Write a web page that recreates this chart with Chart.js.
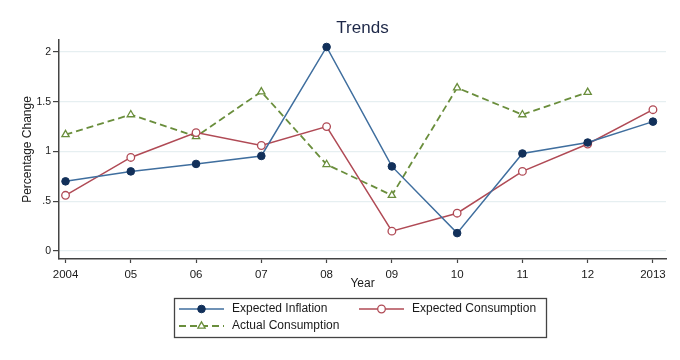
<!DOCTYPE html>
<html>
<head>
<meta charset="utf-8">
<script src="https://cdn.jsdelivr.net/npm/chart.js@4"></script>
<style>
html,body{margin:0;padding:0;background:#fff;}
#wrap{width:680px;height:360px;position:relative;}
</style>
</head>
<body>
<div id="wrap"><canvas id="c" width="680" height="360"></canvas></div>
<script>
const years = [2004, 2005, 2006, 2007, 2008, 2009, 2010, 2011, 2012, 2013];
const xTickLabels = ['2004', '05', '06', '07', '08', '09', '10', '11', '12', '2013'];
const yTickValues = [0, 0.5, 1, 1.5, 2];
const yTickLabels = ['0', '.5', '1', '1.5', '2'];
const expectedInflation = [0.70, 0.80, 0.875, 0.955, 2.05, 0.85, 0.18, 0.98, 1.09, 1.30];
const expectedConsumption = [0.56, 0.94, 1.19, 1.06, 1.25, 0.20, 0.38, 0.80, 1.075, 1.42];
const actualConsumption = [1.17, 1.37, 1.15, 1.60, 0.87, 0.56, 1.64, 1.37, 1.595, null];
const seriesNames = ['Expected Inflation', 'Expected Consumption', 'Actual Consumption'];

const toPts = arr => years.map((y, i) => ({x: y, y: arr[i]}));

Chart.defaults.font.family = "'Liberation Sans', Arial, sans-serif";
Chart.defaults.color = '#1a1a1a';

const boxLegend = {
  id: 'boxLegend',
  afterDraw(chart) {
    const ctx = chart.ctx;
    ctx.save();
    ctx.strokeStyle = '#444';
    ctx.lineWidth = 1.3;
    ctx.strokeRect(174.5, 298.5, 372, 39);
    const items = [
      {ds: 0, x: 179, y: 309},
      {ds: 1, x: 359, y: 309},
      {ds: 2, x: 179, y: 326}
    ];
    items.forEach(it => {
      const ds = chart.data.datasets[it.ds];
      ctx.save();
      ctx.strokeStyle = ds.borderColor;
      ctx.lineWidth = ds.borderWidth;
      ctx.setLineDash(ds.borderDash || []);
      ctx.beginPath();
      ctx.moveTo(it.x, it.y);
      ctx.lineTo(it.x + 45, it.y);
      ctx.stroke();
      ctx.restore();
      ctx.save();
      ctx.fillStyle = ds.pointBackgroundColor;
      ctx.strokeStyle = ds.pointBorderColor;
      ctx.lineWidth = ds.pointBorderWidth;
      ctx.setLineDash([]);
      Chart.helpers.drawPoint(ctx, {
        pointStyle: ds.pointStyle,
        radius: ds.pointRadius,
        borderWidth: ds.pointBorderWidth,
        rotation: 0
      }, it.x + 22.5, it.y);
      ctx.restore();
      ctx.fillStyle = '#1a1a1a';
      ctx.font = "12px 'Liberation Sans', Arial, sans-serif";
      ctx.textBaseline = 'middle';
      ctx.textAlign = 'left';
      ctx.fillText(seriesNames[it.ds], it.x + 53, it.y);
    });
    ctx.restore();
  }
};

new Chart(document.getElementById('c'), {
  type: 'line',
  data: {
    datasets: [
      {
        label: seriesNames[0],
        data: toPts(expectedInflation),
        borderColor: '#3f6e9e',
        borderWidth: 1.5,
        pointStyle: 'circle',
        pointRadius: 3.8,
        pointBorderWidth: 1,
        pointBackgroundColor: '#12305a',
        pointBorderColor: '#12305a',
        tension: 0
      },
      {
        label: seriesNames[1],
        data: toPts(expectedConsumption),
        borderColor: '#b04a55',
        borderWidth: 1.5,
        pointStyle: 'circle',
        pointRadius: 3.8,
        pointBorderWidth: 1.3,
        pointBackgroundColor: '#ffffff',
        pointBorderColor: '#b04a55',
        tension: 0
      },
      {
        label: seriesNames[2],
        data: toPts(actualConsumption),
        borderColor: '#6a8e3c',
        borderWidth: 1.8,
        borderDash: [7, 4],
        pointStyle: 'triangle',
        pointRadius: 4.2,
        pointBorderWidth: 1.3,
        pointBackgroundColor: '#ffffff',
        pointBorderColor: '#6a8e3c',
        spanGaps: false,
        tension: 0
      }
    ]
  },
  options: {
    responsive: false,
    animation: false,
    layout: {padding: {top: 0, left: 0, right: 14, bottom: 60}},
    plugins: {
      legend: {display: false},
      tooltip: {enabled: false},
      title: {
        display: true,
        text: 'Trends',
        fullSize: false,
        color: '#1e2848',
        font: {size: 17, weight: 'normal'},
        padding: {top: 18, bottom: 1.6}
      }
    },
    scales: {
      x: {
        type: 'linear',
        min: 2003.9,
        max: 2013.2,
        afterBuildTicks: s => { s.ticks = years.map(v => ({value: v})); },
        afterFit: s => { s.height = 41; },
        ticks: {
          callback: (v) => xTickLabels[years.indexOf(v)],
          font: {size: 11.5},
          color: '#1a1a1a',
          padding: 5,
          maxRotation: 0,
          autoSkip: false
        },
        grid: {drawOnChartArea: false, drawTicks: true, tickLength: 4, tickColor: '#444', tickWidth: 1.2},
        border: {display: true, color: '#444', width: 1.5},
        title: {display: true, text: 'Year', font: {size: 12}, color: '#1a1a1a', padding: {top: 0, bottom: 9}}
      },
      y: {
        min: -0.08,
        max: 2.12,
        afterBuildTicks: s => { s.ticks = yTickValues.map(v => ({value: v})); },
        afterFit: s => { s.width = 59; },
        ticks: {
          callback: (v) => yTickLabels[yTickValues.indexOf(v)],
          font: {size: 10.5},
          color: '#1a1a1a',
          padding: 2
        },
        grid: {color: '#e6eff1', lineWidth: 1.2, tickLength: 6, tickColor: '#444', tickWidth: 1.2},
        border: {display: true, color: '#444', width: 1.5},
        title: {display: true, text: 'Percentage Change', font: {size: 12}, color: '#1a1a1a', padding: {top: 20, bottom: 0}}
      }
    }
  },
  plugins: [boxLegend]
});
</script>
</body>
</html>
